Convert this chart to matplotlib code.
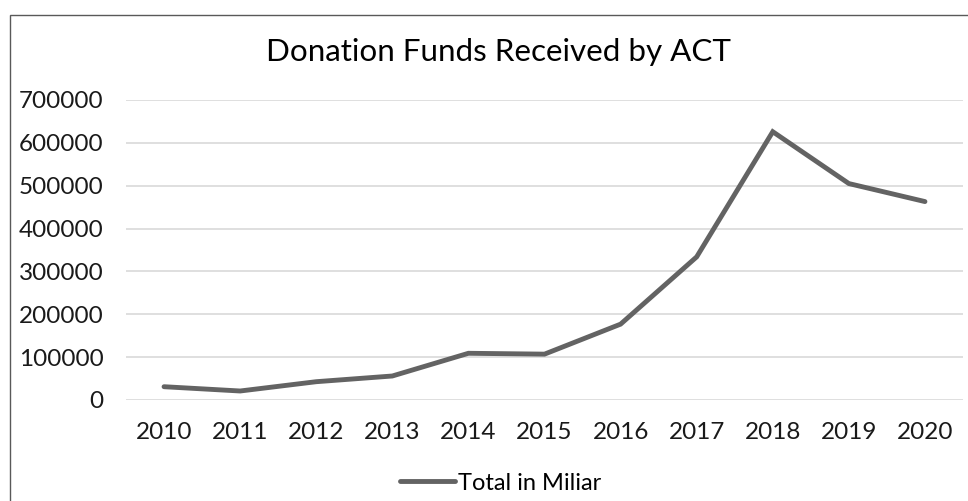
import matplotlib
matplotlib.use("Agg")
import matplotlib.pyplot as plt
from matplotlib.patches import Rectangle

years = ["2010", "2011", "2012", "2013", "2014", "2015", "2016", "2017", "2018", "2019", "2020"]
totals = [31000, 21000, 42700, 56000, 109000, 107000, 177000, 334000, 626000, 505000, 463000]
yticks = [0, 100000, 200000, 300000, 400000, 500000, 600000, 700000]

plt.rcParams['font.family'] = ['Lato', 'DejaVu Sans']

W, H = 968, 501
fig = plt.figure(figsize=(W / 100, H / 100), dpi=100)
fig.patch.set_facecolor("white")

# chart border (cropped on right/bottom)
fig.patches.append(Rectangle((10 / W, -0.1), 1.2, 1 - 15 / H + 0.1, transform=fig.transFigure,
                             fill=False, edgecolor="#595959", linewidth=1.0))

ax = fig.add_axes([126 / W, 1 - 400 / H, (963 - 126) / W, 300 / H])
x = list(range(len(years)))
line, = ax.plot(x, totals, color="#636363", linewidth=3.5, solid_capstyle="round",
                solid_joinstyle="miter", label="Total in Miliar", zorder=3)
ax.set_xlim(-0.5, len(years) - 0.5)
ax.set_ylim(0, 700000)
ax.set_yticks(yticks)
ax.set_yticklabels([str(v) for v in yticks])
ax.set_xticks(x)
ax.set_xticklabels(years)
ax.grid(axis="y", color="#d9d9d9", linewidth=1.2)
ax.set_axisbelow(True)
for s in ax.spines.values():
    s.set_visible(False)
ax.tick_params(axis="both", length=0, labelsize=17.5, colors="#1a1a1a")
ax.tick_params(axis="y", pad=16)
ax.tick_params(axis="x", pad=16)

fig.text(499 / W, 1 - 52 / H, "Donation Funds Received by ACT", ha="center", va="center",
         fontsize=22.6, color="#000000")

fig.legend(handles=[line], loc="center", bbox_to_anchor=(501 / W, 1 - 483 / H),
           frameon=False, fontsize=17, handlelength=2.3, handletextpad=0.15)

fig.savefig("out.png", dpi=100, facecolor="white")
